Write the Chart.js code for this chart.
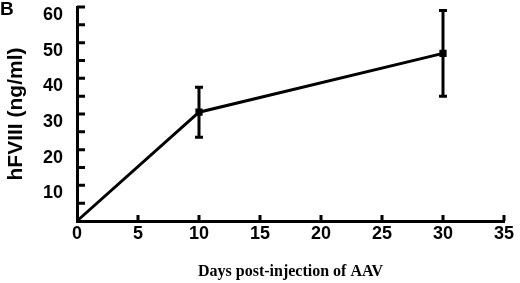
<!DOCTYPE html>
<html><head><meta charset="utf-8">
<script src="https://cdn.jsdelivr.net/npm/chart.js@4.4.1/dist/chart.umd.min.js"></script>
<style>
html,body{margin:0;padding:0;background:#fff;}
#wrap{position:relative;width:520px;height:283px;}
#panel{position:absolute;left:0;top:-2px;font:bold 19px "Liberation Sans",Arial,sans-serif;color:#000;}
</style></head>
<body>
<div id="wrap"><canvas id="c" width="520" height="283"></canvas><div id="panel">B</div></div>
<script>
const days = [0, 10, 30];
const hFVIII = [0, 30.5, 47];
const sem = [0, 7, 12];
const xTickStep = 5;
const yTickStep = 5;

const errorBars = {
  id: 'errorBars',
  afterDatasetsDraw(chart) {
    const {ctx, scales: {x, y}} = chart;
    ctx.save();
    ctx.strokeStyle = '#000';
    ctx.lineWidth = 3;
    days.forEach((d, i) => {
      if (!sem[i]) return;
      const px = x.getPixelForValue(d);
      const top = y.getPixelForValue(hFVIII[i] + sem[i]);
      const bot = y.getPixelForValue(hFVIII[i] - sem[i]);
      ctx.beginPath();
      ctx.moveTo(px, top); ctx.lineTo(px, bot);
      ctx.moveTo(px - 4, top); ctx.lineTo(px + 4, top);
      ctx.moveTo(px - 4, bot); ctx.lineTo(px + 4, bot);
      ctx.stroke();
    });
    ctx.restore();
  }
};

const inwardTicks = {
  id: 'inwardTicks',
  afterDraw(chart) {
    const {ctx, scales: {x, y}, chartArea} = chart;
    ctx.save();
    ctx.strokeStyle = '#000';
    ctx.lineWidth = 3;
    ctx.beginPath();
    for (let v = xTickStep; v <= x.max; v += xTickStep) {
      const px = x.getPixelForValue(v);
      ctx.moveTo(px, chartArea.bottom);
      ctx.lineTo(px, chartArea.bottom - 6);
    }
    for (let v = yTickStep; v <= y.max; v += yTickStep) {
      const py = y.getPixelForValue(v);
      ctx.moveTo(chartArea.left, py);
      ctx.lineTo(chartArea.left + 8, py);
    }
    ctx.stroke();
    ctx.restore();
  }
};

new Chart(document.getElementById('c'), {
  type: 'line',
  data: {
    datasets: [{
      data: days.map((d, i) => ({x: d, y: hFVIII[i]})),
      borderColor: '#000',
      backgroundColor: '#000',
      borderWidth: 3,
      pointStyle: 'rect',
      pointRadius: [0, 3, 3],
      tension: 0,
      clip: false
    }]
  },
  options: {
    responsive: false,
    animation: false,
    events: [],
    layout: {padding: {top: 3, right: 16, left: 0, bottom: 0}},
    plugins: {legend: {display: false}, tooltip: {enabled: false}},
    scales: {
      x: {
        type: 'linear', min: 0, max: 35,
        afterFit(s) { s.height = 62; s.paddingLeft = 0; s.paddingRight = 0; },
        grid: {display: false, drawTicks: false},
        border: {display: true, color: '#000', width: 3},
        ticks: {stepSize: xTickStep, color: '#000', padding: 2,
          font: {family: '"Liberation Sans", Arial, sans-serif', size: 18, weight: 'bold'}},
        title: {display: true, text: 'Days post-injection of AAV', color: '#000',
          padding: {top: 0, bottom: 2},
          font: {family: '"Liberation Serif", "Times New Roman", serif', size: 16, weight: 'bold'}}
      },
      y: {
        min: 0, max: 60,
        afterFit(s) { s.width = 77; s.paddingTop = 0; s.paddingBottom = 0; },
        grid: {display: false, drawTicks: false},
        border: {display: true, color: '#000', width: 3},
        ticks: {stepSize: yTickStep, color: '#000', padding: 14, labelOffset: 8,
          callback: v => (v % 10 === 0 && v !== 0) ? v : '',
          font: {family: '"Liberation Sans", Arial, sans-serif', size: 18, weight: 'bold'}},
        title: {display: true, text: 'hFVIII (ng/ml)', color: '#000',
          padding: {top: 4, bottom: 0},
          font: {family: '"Liberation Sans", Arial, sans-serif', size: 21, weight: 'bold'}}
      }
    }
  },
  plugins: [errorBars, inwardTicks]
});
</script>
</body></html>
